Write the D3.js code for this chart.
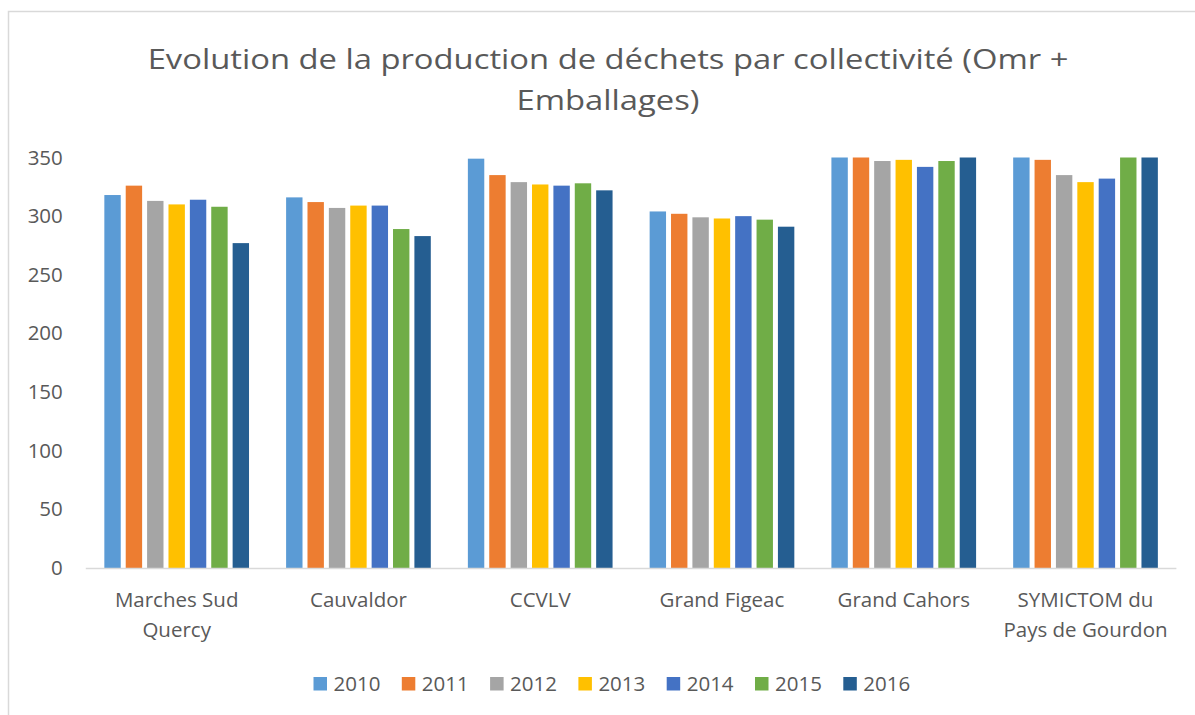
<!DOCTYPE html>
<html>
<head>
<meta charset="utf-8">
<script src="https://d3js.org/d3.v7.min.js"></script>
<style>
  body { margin: 0; background: #ffffff; }
  text { font-family: "Open Sans", sans-serif; fill: #595959; }
</style>
</head>
<body>
<div id="chart"></div>
<script>
var svgWidth = 1195;
var svgHeight = 715;

var margin = {
  top: 157.5,
  right: 18.6,
  bottom: 147,
  left: 85.8
};

var width = svgWidth - margin.left - margin.right;
var height = svgHeight - margin.top - margin.bottom;

// data
var categories = ["Marches Sud Quercy", "Cauvaldor", "CCVLV", "Grand Figeac", "Grand Cahors", "SYMICTOM du Pays de Gourdon"];
var categoryLines = [["Marches Sud", "Quercy"], ["Cauvaldor"], ["CCVLV"], ["Grand Figeac"], ["Grand Cahors"], ["SYMICTOM du", "Pays de Gourdon"]];
var years = ["2010", "2011", "2012", "2013", "2014", "2015", "2016"];
var yearColors = ["#5B9BD5", "#ED7D31", "#A5A5A5", "#FFC000", "#4472C4", "#70AD47", "#255E91"];

var values2010 = [318, 316, 349, 304, 350, 350];
var values2011 = [326, 312, 335, 302, 350, 348];
var values2012 = [313, 307, 329, 299, 347, 335];
var values2013 = [310, 309, 327, 298, 348, 329];
var values2014 = [314, 309, 326, 300, 342, 332];
var values2015 = [308, 289, 328, 297, 347, 350];
var values2016 = [277, 283, 322, 291, 350, 350];

var yTicks = [0, 50, 100, 150, 200, 250, 300, 350];

var seriesValues = [values2010, values2011, values2012, values2013, values2014, values2015, values2016];

// one row per category
var data = categories.map(function(c, i) {
  return {
    category: c,
    lines: categoryLines[i],
    values: years.map(function(y, j) { return { year: y, value: seriesValues[j][i] }; })
  };
});

var svg = d3
  .select("#chart")
  .append("svg")
  .attr("width", svgWidth)
  .attr("height", svgHeight);

// chart frame (runs off the right and bottom of the picture)
svg.append("rect")
  .attr("x", 8.5)
  .attr("y", 11.5)
  .attr("width", 1300)
  .attr("height", 800)
  .attr("fill", "none")
  .attr("stroke", "#d9d9d9")
  .attr("stroke-width", 1.5);

// title, a little wider than the font gives
var title = svg.append("text")
  .attr("transform", "translate(608, 0) scale(1.17, 1)")
  .attr("text-anchor", "middle")
  .attr("font-size", 28);

title.append("tspan").attr("x", 0).attr("y", 69).text("Evolution de la production de déchets par collectivité (Omr +");
title.append("tspan").attr("x", 0).attr("y", 110).text("Emballages)");

var chartGroup = svg.append("g")
  .attr("transform", `translate(${margin.left}, ${margin.top})`);

// scales
var x0 = d3.scaleBand()
  .domain(categories)
  .range([0, width])
  .paddingInner(0.204)
  .paddingOuter(0.102);

var x1 = d3.scaleBand()
  .domain(years)
  .range([0, x0.bandwidth()])
  .paddingInner(0.233);

var color = d3.scaleOrdinal()
  .domain(years)
  .range(yearColors);

var yLinearScale = d3.scaleLinear()
  .domain([0, 350])
  .range([height, 0]);

// y axis: labels only
var leftAxis = d3.axisLeft(yLinearScale)
  .tickValues(yTicks)
  .tickSize(0)
  .tickPadding(23);

var yAxis = chartGroup.append("g")
  .call(leftAxis);

yAxis.select(".domain").remove();
yAxis.selectAll("text")
  .attr("font-size", 20.5)
  .attr("font-family", "Open Sans")
  .attr("fill", "#595959");

// bars
var groups = chartGroup.selectAll(".group")
  .data(data)
  .enter()
  .append("g")
  .attr("class", "group")
  .attr("transform", d => `translate(${x0(d.category)}, 0)`);

groups.selectAll("rect")
  .data(d => d.values)
  .enter()
  .append("rect")
  .attr("x", d => x1(d.year))
  .attr("y", d => yLinearScale(d.value))
  .attr("width", x1.bandwidth())
  .attr("height", d => height - yLinearScale(d.value))
  .attr("fill", d => color(d.year));

// x axis line
chartGroup.append("line")
  .attr("x1", 0)
  .attr("x2", width)
  .attr("y1", height + 0.5)
  .attr("y2", height + 0.5)
  .attr("stroke", "#d9d9d9")
  .attr("stroke-width", 1.5);

// category labels, wrapped on two lines
var catLabels = chartGroup.selectAll(".cat-label")
  .data(data)
  .enter()
  .append("text")
  .attr("class", "cat-label")
  .attr("text-anchor", "middle")
  .attr("font-size", 20.5);

catLabels.selectAll("tspan")
  .data(d => d.lines.map(l => ({ line: l, cx: x0(d.category) + x0.bandwidth() / 2 })))
  .enter()
  .append("tspan")
  .attr("x", d => d.cx)
  .attr("y", (d, i) => height + 39 + i * 30)
  .text(d => d.line);

// legend
var legendGroup = svg.append("g")
  .attr("transform", "translate(313.5, 677)");

var legendItems = legendGroup.selectAll(".legend-item")
  .data(years)
  .enter()
  .append("g")
  .attr("class", "legend-item")
  .attr("transform", (d, i) => `translate(${i * 88.3}, 0)`);

legendItems.append("rect")
  .attr("width", 13.5)
  .attr("height", 13.5)
  .attr("fill", d => color(d));

legendItems.append("text")
  .attr("x", 20)
  .attr("y", 13.5)
  .attr("font-size", 20.5)
  .text(d => d);
</script>
</body>
</html>
